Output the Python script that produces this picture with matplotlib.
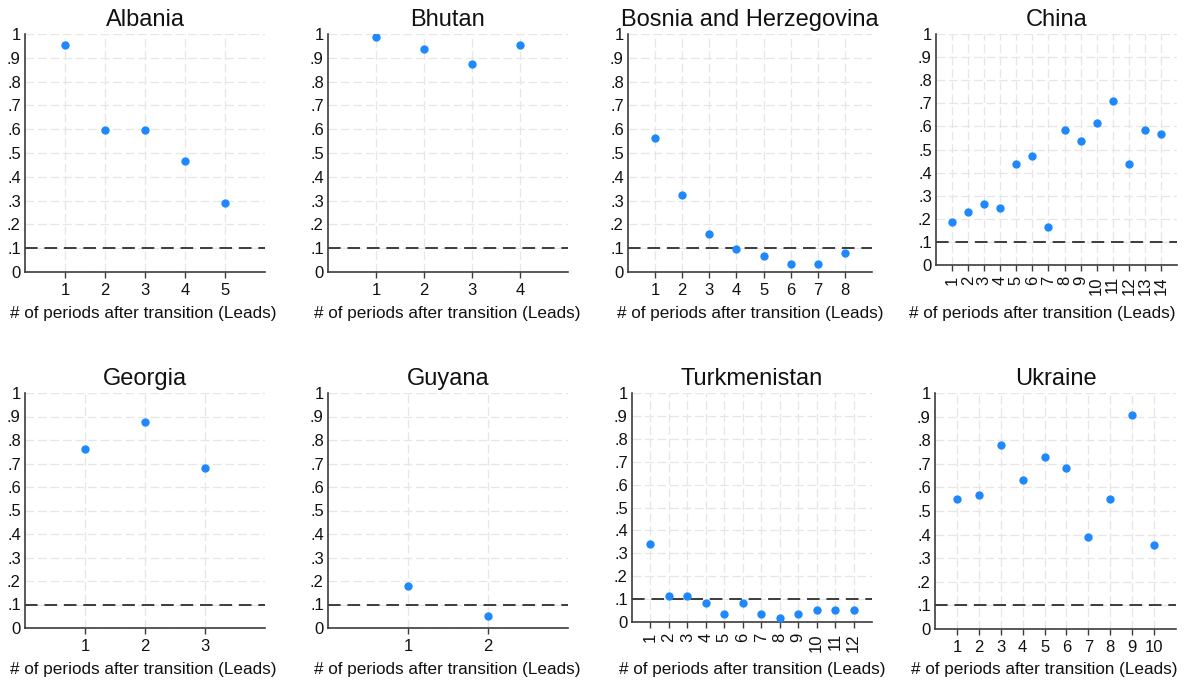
import matplotlib
matplotlib.use("Agg")
import matplotlib.pyplot as plt
import numpy as np

plt.rcParams["font.family"] = ["Liberation Sans", "DejaVu Sans"]

# p-values by lead
albania = [0.952, 0.597, 0.597, 0.468, 0.291]
bhutan = [0.986, 0.937, 0.873, 0.955]
bosnia = [0.562, 0.322, 0.161, 0.097, 0.066, 0.032, 0.032, 0.081]
china = [0.184, 0.231, 0.263, 0.247, 0.438, 0.473, 0.166,
         0.585, 0.536, 0.614, 0.712, 0.438, 0.584, 0.568]
georgia = [0.763, 0.876, 0.681]
guyana = [0.178, 0.049]
turkmenistan = [0.342, 0.115, 0.115, 0.083, 0.034, 0.083,
                0.034, 0.018, 0.034, 0.051, 0.051, 0.051]
ukraine = [0.552, 0.568, 0.778, 0.633, 0.730, 0.681,
           0.388, 0.552, 0.908, 0.356]

countries = ["Albania", "Bhutan", "Bosnia and Herzegovina", "China",
             "Georgia", "Guyana", "Turkmenistan", "Ukraine"]
series = [albania, bhutan, bosnia, china, georgia, guyana, turkmenistan, ukraine]
threshold = 0.1

# panel boxes in pixels: left, right, top (y=1), bottom (y=0)
W, H = 1184, 685
boxes = [(25, 265, 34, 272), (328, 568, 34, 272), (628, 872, 34, 272), (936, 1177, 34, 265),
         (25, 265, 393, 628), (328, 568, 393, 628), (632, 872, 393, 622), (935, 1176, 393, 629)]
# x label: centre x and top y, pixels
label_pos = [(143, 306), (447, 306), (750, 306), (1042, 306),
             (143, 662), (447, 662), (752, 662), (1044, 662)]

fig = plt.figure(figsize=(W / 100, H / 100), dpi=100)

for name, vals, (l, r, t, b), (lx, lt) in zip(countries, series, boxes, label_pos):
    ax = fig.add_axes([l / W, 1 - b / H, (r - l) / W, (b - t) / H])
    n = len(vals)
    x = np.arange(1, n + 1)

    ax.set_xlim(0, n + 1)
    ax.set_ylim(0, 1)
    ax.set_xticks(x)
    ax.set_yticks(np.arange(0, 1.01, 0.1))
    ax.set_yticklabels(["0", ".1", ".2", ".3", ".4", ".5", ".6", ".7", ".8", ".9", "1"])

    ax.grid(True, color="#e6e6e6", lw=0.9, linestyle=(0, (7, 3)))
    ax.set_axisbelow(True)

    ax.axhline(threshold, color="#3c3c3c", lw=1.4, linestyle=(0, (6.5, 3.5)), zorder=2)
    ax.plot(x, vals, "o", color="#1E88FF", ms=6, mec="none", zorder=3)

    for s in ["top", "right"]:
        ax.spines[s].set_visible(False)
    for s in ["left", "bottom"]:
        ax.spines[s].set_color("#3c3c3c")
        ax.spines[s].set_linewidth(1.2)

    ax.tick_params(axis="y", length=0, pad=3, labelsize=12, colors="#111111")
    ax.tick_params(axis="x", length=4, width=1, color="#3c3c3c", pad=4,
                   labelsize=12, labelcolor="#111111")
    if n > 10:
        for lab in ax.get_xticklabels():
            lab.set_rotation(90)

    ax.set_title(name, fontsize=17, pad=6, color="#111111")
    ax.set_xlabel("# of periods after transition (Leads)", fontsize=12.3, color="#111111")
    ax.xaxis.set_label_coords((lx - l) / (r - l), -(lt - b) / (b - t))

fig.savefig("out.png", dpi=100, facecolor="white")
